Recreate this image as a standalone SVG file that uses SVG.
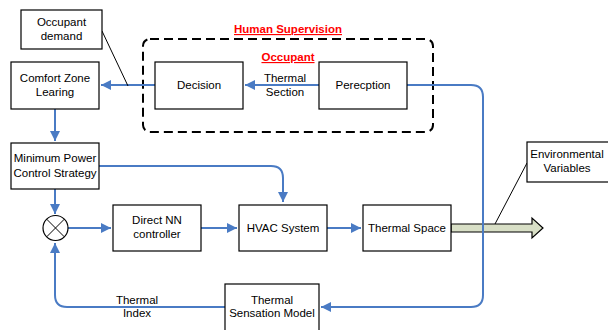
<svg xmlns="http://www.w3.org/2000/svg" width="608" height="330" viewBox="0 0 608 330">
<style>
.box{fill:#fff;stroke:#000;stroke-width:1.2}
.t{font-family:"Liberation Sans",Arial,sans-serif;font-size:11.5px;fill:#000;text-anchor:middle}
.r{font-family:"Liberation Sans",Arial,sans-serif;font-size:11.5px;font-weight:bold;fill:#ff0000;text-anchor:middle;text-decoration:underline}
.c{fill:none;stroke:#4a7bc4;stroke-width:2}
.k{fill:none;stroke:#000;stroke-width:1}
</style>
<defs>
<marker id="a" viewBox="0 0 10 10" refX="10" refY="5" markerWidth="5.5" markerHeight="5" orient="auto" markerUnits="strokeWidth">
<path d="M0,0L10,5L0,10z" fill="#4a7bc4"/>
</marker>
</defs>
<g id="supervision">
<rect x="143" y="39" width="290" height="93" rx="7" fill="none" stroke="#000" stroke-width="2" stroke-dasharray="9,5"/>
<text class="r" x="288" y="33">Human Supervision</text>
<text class="r" x="288" y="61">Occupant</text>
</g>
<g id="connectors">
<path class="c" d="M319,85H245" marker-end="url(#a)"/>
<path class="c" d="M155,85H101" marker-end="url(#a)"/>
<path class="c" d="M55,109V141" marker-end="url(#a)"/>
<path class="c" d="M55,189V214" marker-end="url(#a)"/>
<path class="c" d="M99,166H271Q283,166 283,178V202" marker-end="url(#a)"/>
<path class="c" d="M68,228H111" marker-end="url(#a)"/>
<path class="c" d="M201,228H237" marker-end="url(#a)"/>
<path class="c" d="M327,228H361" marker-end="url(#a)"/>
<path d="M451,224H532V218L543,228L532,238V232H451Z" fill="#d8dfc6" stroke="#000" stroke-width="1.2"/>
<path class="c" d="M407,85H471Q483,85 483,97V295Q483,307 471,307H321" marker-end="url(#a)"/>
<path class="c" d="M225,307H67Q55,307 55,295V243" marker-end="url(#a)"/>
<path class="k" d="M102,31L128,86"/>
<path class="k" d="M527,163L495,224"/>
</g>
<g id="occupant-demand"><rect class="box" x="21" y="10" width="81" height="39"/><text class="t" x="61.5" y="26">Occupant</text><text class="t" x="61.5" y="40">demand</text></g>
<g id="comfort-zone"><rect class="box" x="11" y="62" width="88" height="47"/><text class="t" x="55" y="82">Comfort Zone</text><text class="t" x="55" y="96">Learing</text></g>
<g id="decision"><rect class="box" x="155" y="62" width="88" height="47"/><text class="t" x="199" y="89">Decision</text></g>
<g id="thermal-section-label"><text class="t" x="285" y="82">Thermal</text><text class="t" x="285" y="96">Section</text></g>
<g id="perception"><rect class="box" x="319" y="62" width="88" height="47"/><text class="t" x="363" y="89">Perecption</text></g>
<g id="min-power"><rect class="box" x="11" y="143" width="88" height="46"/><text class="t" x="55" y="162">Minimum Power</text><text class="t" x="55" y="177">Control Strategy</text></g>
<g id="sum"><circle cx="55.5" cy="228" r="12.5" fill="#fff" stroke="#000" stroke-width="1.2"/><path class="k" d="M46.7,219.2L64.3,236.8M64.3,219.2L46.7,236.8"/></g>
<g id="direct-nn"><rect class="box" x="113" y="205" width="88" height="46"/><text class="t" x="157" y="224">Direct NN</text><text class="t" x="157" y="238">controller</text></g>
<g id="hvac"><rect class="box" x="239" y="205" width="88" height="46"/><text class="t" x="283" y="232">HVAC System</text></g>
<g id="thermal-space"><rect class="box" x="363" y="205" width="88" height="46"/><text class="t" x="407" y="232">Thermal Space</text></g>
<g id="env-vars"><rect class="box" x="527" y="142" width="84" height="40"/><text class="t" x="567" y="158">Environmental</text><text class="t" x="567" y="172">Variables</text></g>
<g id="thermal-sensation"><rect class="box" x="225" y="284" width="94" height="50"/><text class="t" x="272" y="304">Thermal</text><text class="t" x="272" y="317">Sensation Model</text></g>
<g id="thermal-index-label"><text class="t" x="137" y="304">Thermal</text><text class="t" x="137" y="317">Index</text></g>
</svg>
